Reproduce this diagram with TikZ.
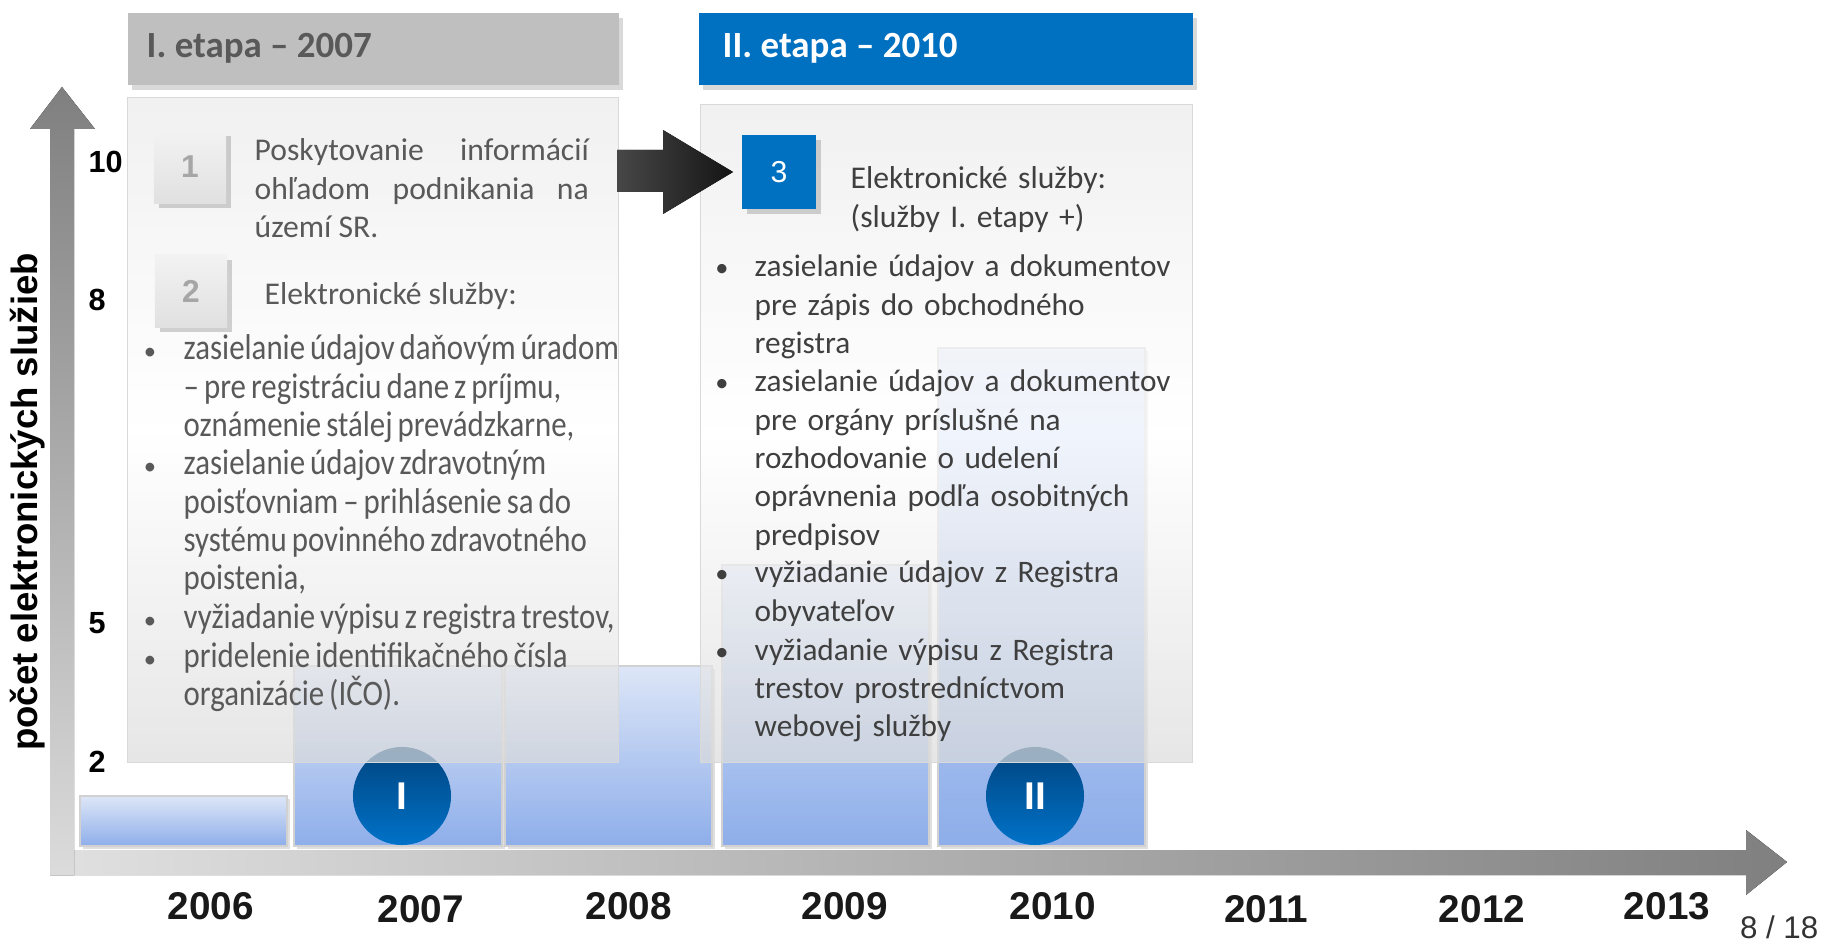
\documentclass[tikz,border=0pt]{standalone}
\usepackage{fontspec}
\setmainfont{Carlito}
\newfontfamily\arialfont{Liberation Sans}
\newfontfamily\narrowfont[FakeStretch=0.86]{Carlito}
\usetikzlibrary{positioning,shadows}
\newcommand\tightsp{\spaceskip=0.14em plus 0.04em\relax}

\definecolor{etapablue}{HTML}{0070C0}
\definecolor{etapagray}{HTML}{BFBFBF}
\definecolor{txtgray}{HTML}{595959}
\definecolor{txtdark}{HTML}{3F3F3F}
\definecolor{barlight}{HTML}{DDE6F7}
\definecolor{bardark}{HTML}{8EAEEA}
\definecolor{circdark}{HTML}{00447F}
\definecolor{circlight}{HTML}{0072C8}

\tikzset{
  hdrbox/.style={rectangle, inner sep=0pt, anchor=north west, minimum height=0.72cm,
    drop shadow={shadow xshift=0.04cm, shadow yshift=-0.05cm, opacity=0.3}},
  hdrtext/.style={inner sep=0pt, font=\bfseries\fontsize{10.5}{12}\selectfont},
  panel/.style={rectangle, inner sep=0pt, anchor=north west, draw=black!15, line width=0.3pt,
    top color=black!8, bottom color=black!14, middle color=white, fill opacity=0.7},
  bar/.style={draw=black!18, line width=0.4pt, top color=barlight, bottom color=bardark,
    drop shadow={shadow xshift=0.03cm, shadow yshift=-0.03cm, opacity=0.25}},
  phase/.style={circle, inner sep=0pt, minimum size=0.98cm, top color=circdark,
    bottom color=circlight, text=white, font=\arialfont\bfseries\fontsize{11}{13}\selectfont},
  numsq/.style={rectangle, inner sep=0pt, minimum width=0.72cm, minimum height=0.72cm,
    drop shadow={shadow xshift=0.05cm, shadow yshift=-0.05cm, opacity=0.35}},
  bodytext/.style={inner sep=0pt, anchor=base west, font=\fontsize{9}{10.9}\selectfont},
  listA/.style={inner sep=0pt, anchor=base west, text width=4.6cm, align=left, text=txtgray,
    font=\narrowfont\fontsize{10.2}{10.9}\selectfont, execute at begin node=\tightsp},
  listB/.style={inner sep=0pt, anchor=base west, text width=4.6cm, align=left, text=txtdark,
    font=\fontsize{8.9}{10.9}\selectfont},
  dotA/.style={inner sep=0pt, anchor=base, text=txtgray, font=\fontsize{7}{8}\selectfont},
  dotB/.style={inner sep=0pt, anchor=base, text=txtdark, font=\fontsize{7.5}{8}\selectfont},
  axnum/.style={inner sep=0pt, anchor=west, font=\arialfont\bfseries\fontsize{8.7}{10}\selectfont},
  yearlbl/.style={inner sep=0pt, font=\arialfont\bfseries\fontsize{11}{13}\selectfont, text=black!90}
}

\begin{document}
\begin{tikzpicture}[x=0.01cm, y=-0.01cm]
  \useasboundingbox (0,0) rectangle (1824,943);

  % axes
  \fill[left color=black!12, right color=black!50]
    (50,850) -- (1746,850) -- (1746,830) -- (1787,862) -- (1746,895) -- (1746,875) -- (50,875) -- cycle;
  \fill[top color=black!50, bottom color=black!14]
    (50,875) -- (50,129) -- (30,129) -- (62,87) -- (95,129) -- (74,129) -- (74,875) -- cycle;

  % bars
  \foreach \xa/\xb/\yt in {80/287/796, 294/502/666, 505/712/666, 722/929/565, 938/1145/348}
    \draw[bar] (\xa,\yt) rectangle (\xb,846);

  \node[phase] (phaseA) at (402,796) {I};
  \node[phase] (phaseB) at (1035,796) {II};

  % panels and headers
  \node[panel, minimum width=4.91cm, minimum height=6.65cm] (panelA) at (127,97) {};
  \node[panel, minimum width=4.92cm, minimum height=6.58cm] (panelB) at (700,104) {};

  \node[hdrbox, fill=etapagray, minimum width=4.91cm] (hdrA) at (127,12) {};
  \node[hdrtext, text=txtgray, right=0.19cm of hdrA.west] (hdrAtext) {I. etapa – 2007};
  \node[hdrbox, fill=etapablue, minimum width=4.94cm] (hdrB) at (698,12) {};
  \node[hdrtext, text=white, right=0.24cm of hdrB.west] (hdrBtext) {II. etapa – 2010};

  \fill[left color=black!72, right color=black!92]
    (617,150) -- (663,150) -- (663,130) -- (733,172) -- (663,214) -- (663,192) -- (617,192) -- cycle;

  % numbered squares
  \node[numsq, top color=black!5, bottom color=black!12, text=black!35,
    font=\arialfont\bfseries\fontsize{9}{10}\selectfont] (sqA) at (190,167) {1};
  \node[numsq, top color=black!5, bottom color=black!12, text=black!35,
    font=\arialfont\bfseries\fontsize{9}{10}\selectfont] (sqB) at (191,291) {2};
  \node[numsq, fill=etapablue, text=white, minimum width=0.73cm, minimum height=0.73cm,
    font=\arialfont\fontsize{8.6}{10}\selectfont] (sqC) at (779,172) {3};

  % stage I texts
  \node[bodytext, text=txtgray, text width=3.34cm, align=justify] (infoA) at (254,161)
    {Poskytovanie informácií\linebreak ohľadom podnikania na\linebreak území SR.};
  \node[bodytext, text=txtgray] (servA) at (264,305) {Elektronické služby:};

  \node[listA] (itemA1) at (183,360) {zasielanie údajov daňovým úradom\\– pre registráciu dane z príjmu,\\oznámenie stálej prevádzkarne,};
  \node[listA] (itemA2) at (183,475) {zasielanie údajov zdravotným\\poisťovniam – prihlásenie sa do\\systému povinného zdravotného\\poistenia,};
  \node[listA] (itemA3) at (183,628) {vyžiadanie výpisu z registra trestov,};
  \node[listA] (itemA4) at (183,667) {pridelenie identifikačného čísla\\organizácie (IČO).};
  \foreach \yy [count=\i] in {360,475,628,667}
    \node[dotA] (dotA\i) at (150,\yy) {•};

  % stage II texts
  \node[bodytext, text=txtdark, text width=3cm, align=left] (servB) at (850,189)
    {Elektronické služby:\\(služby I. etapy +)};

  \node[listB] (itemB1) at (754,277) {zasielanie údajov a dokumentov\\pre zápis do obchodného\\registra};
  \node[listB] (itemB2) at (754,392) {zasielanie údajov a dokumentov\\pre orgány príslušné na\\rozhodovanie o udelení\\oprávnenia podľa osobitných\\predpisov};
  \node[listB] (itemB3) at (754,583) {vyžiadanie údajov z Registra\\obyvateľov};
  \node[listB] (itemB4) at (754,660) {vyžiadanie výpisu z Registra\\trestov prostredníctvom\\webovej služby};
  \foreach \yy [count=\i] in {277,392,583,660}
    \node[dotB] (dotB\i) at (722,\yy) {•};

  % axis labels
  \node[inner sep=0pt, rotate=90, font=\arialfont\bfseries\fontsize{10.4}{12}\selectfont] (axtitle) at (28,502) {počet elektronických služieb};
  \foreach \v/\yy in {10/162, 8/300, 5/623, 2/762}
    \node[axnum] (tick\v) at (88,\yy) {\v};
  \foreach \yr/\xx/\yy in {2006/211/906, 2007/421/909, 2008/629/906, 2009/845/906,
      2010/1053/906, 2011/1266/909, 2012/1482/909, 2013/1667/906}
    \node[yearlbl] (yr\yr) at (\xx,\yy) {\yr};

  \node[inner sep=0pt, anchor=base east, text=black!80, font=\arialfont\fontsize{8.9}{10}\selectfont] (pageno) at (1819,938) {8 / 18};
\end{tikzpicture}
\end{document}
